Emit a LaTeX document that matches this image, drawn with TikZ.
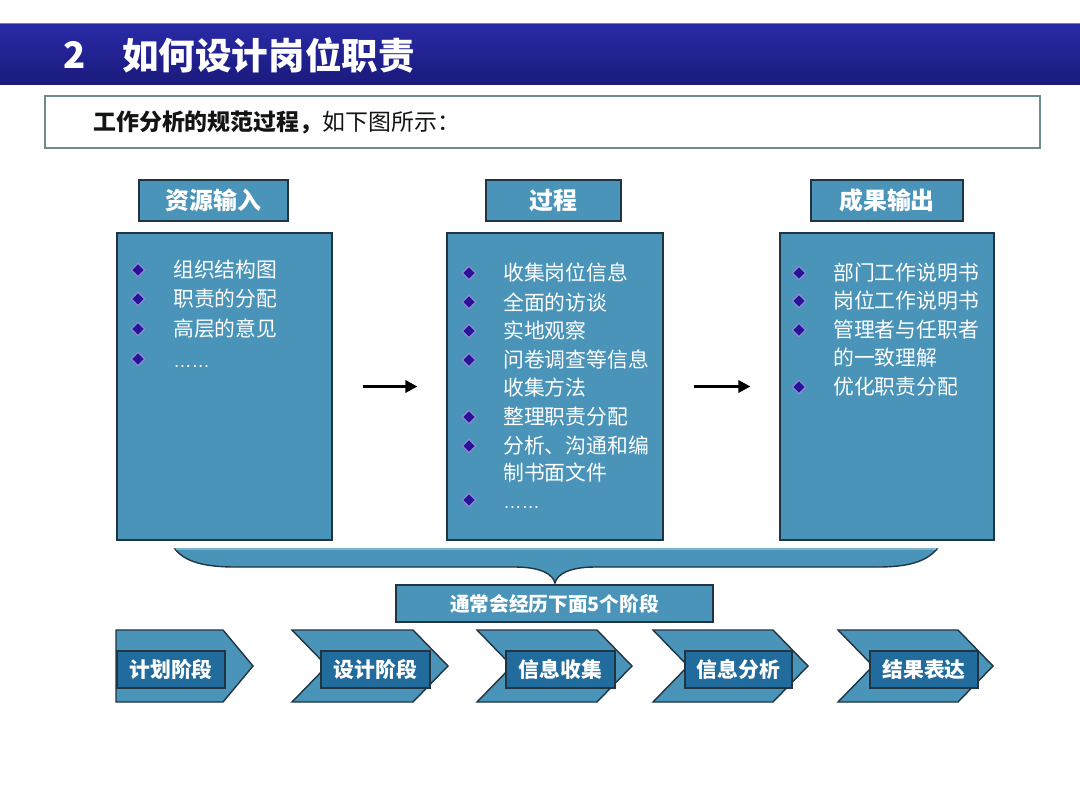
\documentclass[tikz,border=0pt]{standalone}
\usepackage{fontspec}
\setmainfont{Noto Sans CJK SC}
\newfontfamily\dotfont{Liberation Sans}
\usetikzlibrary{shapes.geometric,arrows.meta}
\definecolor{bx}{RGB}{74,148,185}
\definecolor{dk}{RGB}{32,52,66}
\definecolor{inr}{RGB}{33,108,156}
\definecolor{barT}{RGB}{42,42,168}
\definecolor{barB}{RGB}{26,26,124}
\definecolor{dia}{RGB}{40,20,150}
\definecolor{diaL}{RGB}{150,140,220}
\definecolor{subb}{RGB}{110,140,140}
\definecolor{txt}{RGB}{20,20,20}
\begin{document}
\begin{tikzpicture}[x=0.025cm,y=-0.025cm,
  hdr/.style={draw=dk,line width=1pt,fill=bx,text=white,inner sep=0,minimum height=1.025cm,font=\fontsize{17pt}{20pt}\selectfont\bfseries},
  mbox/.style={draw=dk,line width=1pt,fill=bx,inner sep=0,minimum height=7.675cm},
  itm/.style={anchor=west,inner sep=0,text=white,font=\fontsize{14.8pt}{18pt}\selectfont},
  dots/.style={anchor=base west,inner sep=0,text=white,font=\dotfont\fontsize{13pt}{15pt}\selectfont},
  bul/.style={diamond,fill=dia,draw=diaL,line width=0.8pt,inner sep=0,minimum width=0.34cm,minimum height=0.34cm},
  flowarr/.style={line width=2.2pt,-{Triangle[length=0.3cm,width=0.3cm]},shorten <=0.75cm,shorten >=0.72cm},
  chev/.style={draw=dk,line width=1pt,fill=bx},
  stg/.style={draw=dk,line width=1pt,fill=inr,text=white,inner sep=0,minimum height=0.925cm,font=\fontsize{14.8pt}{17pt}\selectfont\bfseries},
  note/.style={draw=dk,line width=1pt,fill=bx,text=white,inner sep=0,minimum width=7.925cm,minimum height=0.925cm,font=\fontsize{14pt}{17pt}\selectfont\bfseries}
]
\useasboundingbox (0,0) rectangle (1080,810);
\fill[white] (0,0) rectangle (1080,810);

% title bar
\shade[top color=barT,bottom color=barB] (0,23) rectangle (1080,84);
\draw[color={rgb,255:red,120;green,120;blue,210},line width=0.6pt] (0,23) -- (1080,23);
\node[anchor=center,inner sep=0,text=white,font=\fontsize{26pt}{30pt}\selectfont\bfseries] (num) at (75,55) {2};
\node[anchor=west,inner sep=0,text=white,font=\fontsize{26pt}{30pt}\selectfont\bfseries] (title) at (122,55) {如何设计岗位职责};

% subtitle box
\node[draw=subb,line width=1pt,inner sep=0,minimum width=24.875cm,minimum height=1.3cm] (subbox) at (542.5,122) {};
\node[anchor=west,inner sep=0,text=txt,font=\fontsize{16.3pt}{19pt}\selectfont] (subtxt) at (93,122) {{\bfseries 工作分析的规范过程，}如下图所示：};

% headers
\node[hdr,minimum width=3.725cm] (h1) at (213.5,200.5) {资源输入};
\node[hdr,minimum width=3.375cm] (h2) at (553.5,200.5) {过程};
\node[hdr,minimum width=3.8cm] (h3) at (887,200.5) {成果输出};

% main boxes
\node[mbox,minimum width=5.375cm] (m1) at (224.5,386.5) {};
\node[mbox,minimum width=5.4cm] (m2) at (555,386.5) {};
\node[mbox,minimum width=5.35cm] (m3) at (887,386.5) {};

% left items
\foreach \n/\y/\t in {a1/270/组织结构图, a2/299/职责的分配, a3/329/高层的意见} {
  \node[bul] (d\n) at (138,\y) {};
  \node[itm] (t\n) at (173,\y) {\t};
}
\node[bul] (da4) at (138,359) {};
\node[dots] (ta4) at (173,367) {……};

% middle items
\foreach \n/\y/\t in {b1/273/收集岗位信息, b2/302/全面的访谈, b3/331/实地观察, b4/360/问卷调查等信息, b5/417/整理职责分配, b6/446/分析、沟通和编} {
  \node[bul] (d\n) at (469,\y) {};
  \node[itm] (t\n) at (503,\y) {\t};
}
\node[itm] (tb4c) at (503,388) {收集方法};
\node[itm] (tb6c) at (503,473) {制书面文件};
\node[bul] (db7) at (469,500) {};
\node[dots] (tb7) at (503,508) {……};

% right items
\foreach \n/\y/\t in {c1/273/部门工作说明书, c2/301/岗位工作说明书, c3/330/管理者与任职者, c4/387/优化职责分配} {
  \node[bul] (d\n) at (799,\y) {};
  \node[itm] (t\n) at (833,\y) {\t};
}
\node[itm] (tc3c) at (833,358) {的一致理解};

% arrows
\draw[flowarr] (m1) -- (m2);
\draw[flowarr] (m2) -- (m3);

% brace
\draw[fill=bx,draw=dk,line width=1pt]
  (175,549) -- (937,549)
  .. controls (925,563) and (905,567) .. (877,567)
  -- (595,567)
  .. controls (570,567) and (557,574) .. (555,583)
  .. controls (553,574) and (540,567) .. (515,567)
  -- (235,567)
  .. controls (205,567) and (185,562) .. (175,549) -- cycle;
\draw[color=bx!70!white,line width=1pt] (176,549) -- (936,549);

% note box
\node[note] (note) at (554.5,603.5) {通常会经历下面5个阶段};

% chevrons
\draw[chev] (116,630) -- (223,630) -- (253,666) -- (223,702) -- (116,702) -- cycle;
\foreach \L/\R in {292/413, 477/597, 653/773, 838/958} {
  \draw[chev] (\L,630) -- (\R,630) -- ({\R+35},666) -- (\R,702) -- (\L,702) -- ({\L+35},666) -- cycle;
}

% stage labels
\node[stg,minimum width=2.7cm] (s1) at (171,669.5) {计划阶段};
\node[stg,minimum width=2.725cm] (s2) at (375.5,669.5) {设计阶段};
\node[stg,minimum width=2.725cm] (s3) at (560.5,669.5) {信息收集};
\node[stg,minimum width=2.675cm] (s4) at (738.5,669.5) {信息分析};
\node[stg,minimum width=2.7cm] (s5) at (924,669.5) {结果表达};
\end{tikzpicture}
\end{document}
